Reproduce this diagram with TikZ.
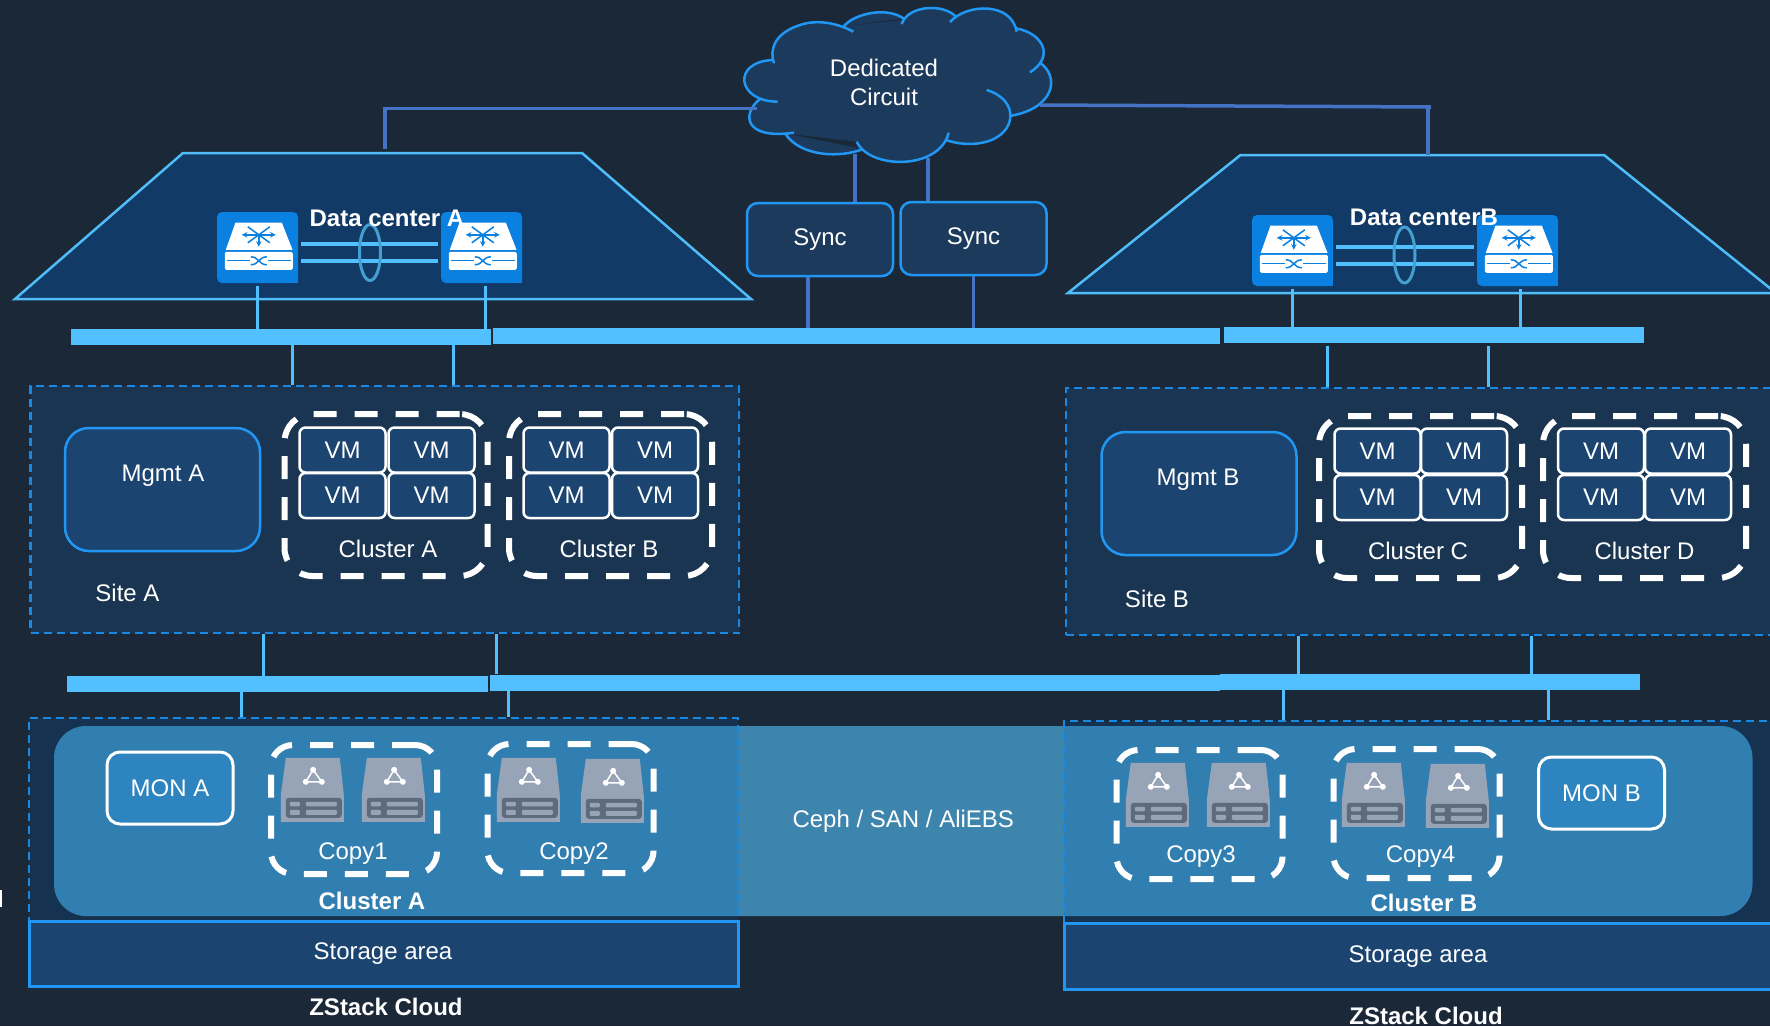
\documentclass[tikz,border=0pt]{standalone}
\usepackage{fontspec}
\setmainfont{Liberation Sans}
\usepackage{tikz}
\usetikzlibrary{arrows}
\usetikzlibrary{shapes}

\definecolor{pagebg}{HTML}{1B2838}
\definecolor{roomfill}{HTML}{123A66}
\definecolor{roomline}{HTML}{4FBDF7}
\definecolor{barblue}{HTML}{52C0FF}
\definecolor{wireblue}{HTML}{4472C4}
\definecolor{cloudfill}{HTML}{1B3A5C}
\definecolor{cloudline}{HTML}{2196F3}
\definecolor{sitefill}{HTML}{1A3552}
\definecolor{sitedash}{HTML}{1A87E0}
\definecolor{mgmtfill}{HTML}{1B4570}
\definecolor{bandfill}{HTML}{3E85AE}
\definecolor{monfill}{HTML}{2D84BF}
\definecolor{switchblue}{HTML}{0A80E0}
\definecolor{diskgray}{HTML}{97A3B6}
\definecolor{diskdark}{HTML}{5E6B7D}

\tikzset{
	txt/.style={text=white, font=\fontsize{24}{29}\selectfont, inner sep=0pt, align=center},
	boldtxt/.style={text=white, font=\fontsize{24}{29}\selectfont\bfseries, inner sep=0pt},
	room/.style={draw=roomline, fill=roomfill, line width=2.5pt, line join=miter},
	busbar/.style={fill=barblue, inner sep=0pt, minimum height=16pt},
	link/.style={draw=barblue, line width=3pt},
	lagline/.style={draw=barblue, line width=4pt},
	wire/.style={draw=wireblue, line width=3.5pt},
	syncbox/.style={draw=cloudline, fill=cloudfill, line width=2.5pt, rounded corners=11pt, inner sep=0pt, minimum width=146pt, minimum height=73pt, text=white, font=\fontsize{24}{29}\selectfont},
	sitebox/.style={draw=sitedash, fill=sitefill, line width=2.5pt, dash pattern=on 8pt off 5pt, inner sep=0pt},
	storezone/.style={draw=sitedash, line width=2.5pt, dash pattern=on 8pt off 5pt, inner sep=0pt, fill={rgb,255:red,1;green,98;blue,184}, fill opacity=.2},
	mgmtbox/.style={draw=cloudline, fill=mgmtfill, line width=2.5pt, rounded corners=24pt, inner sep=0pt, minimum width=195pt, minimum height=123pt},
	clusterbox/.style={draw=white, line width=6pt, rounded corners=28pt, dash pattern=on 23pt off 18pt, inner sep=0pt, minimum width=203pt, minimum height=162pt},
	copybox/.style={draw=white, line width=6pt, rounded corners=22pt, dash pattern=on 23pt off 18pt, inner sep=0pt, minimum width=166pt, minimum height=129pt},
	vmbox/.style={draw=white, fill=mgmtfill, line width=2.5pt, rounded corners=6pt, inner sep=0pt, minimum width=86pt, minimum height=45pt, text=white, font=\fontsize{24}{29}\selectfont},
	monbox/.style={draw=white, fill=monfill, line width=3pt, rounded corners=13pt, inner sep=0pt, minimum width=126pt, minimum height=72pt, text=white, font=\fontsize{24}{29}\selectfont},
	areabox/.style={draw=cloudline, fill=mgmtfill, line width=3pt, inner sep=0pt, text=white, font=\fontsize{24}{29}\selectfont},
	switchbox/.style={fill=switchblue, rounded corners=5pt, inner sep=0pt, minimum width=81pt, minimum height=71pt},
	diskbox/.style={fill=diskgray, inner sep=0pt, minimum width=63pt, minimum height=64pt, path picture={}},
}

% white switch symbol on top of a switchbox node
\newcommand{\switchicon}[1]{
	\begin{scope}[shift={(#1.north west)}]
		\fill[switchblue] (70,60) rectangle (81,71);
		\fill[white] (18.7,10.7) -- (65,10.7) -- (75.7,38) -- (9,38) -- cycle;
		\fill[white, rounded corners=1.5pt] (8,40) rectangle (76,58);
		\draw[switchblue, line width=1.5pt, -stealth] (42,23) -- (59,23);
		\draw[switchblue, line width=1.5pt, -stealth] (42,23) -- (25,23);
		\draw[switchblue, line width=1.5pt, -stealth] (42,23) -- (42,35);
		\draw[switchblue, line width=1.5pt] (31,15) -- (53,31);
		\draw[switchblue, line width=1.5pt] (53,15) -- (31,31);
		\draw[switchblue, line width=1pt] (10,49) -- (33,49);
		\draw[switchblue, line width=1pt] (51,49) -- (74,49);
		\draw[switchblue, line width=1.5pt] (34,45) .. controls (42,45) and (42,53) .. (50,53);
		\draw[switchblue, line width=1.5pt] (34,53) .. controls (42,53) and (42,45) .. (50,45);
	\end{scope}
}

% grey disk symbol, #1 is the diskbox node
\newcommand{\diskicon}[1]{
	\begin{scope}[shift={(#1.north west)}]
		\fill[pagebg!0!diskgray] (5,0) -- (59,0) -- (63,37) -- (63,64) -- (0,64) -- (0,37) -- cycle;
		\fill[diskdark, rounded corners=3pt] (5,40) rectangle (61,60);
		\fill[diskgray, rounded corners=1pt] (9,44) rectangle (19,48.5);
		\fill[diskgray, rounded corners=1pt] (9,52) rectangle (19,57);
		\fill[diskgray, rounded corners=1pt] (25,44) rectangle (56,48.5);
		\fill[diskgray, rounded corners=1pt] (25,52) rectangle (56,57);
		\draw[white, line width=1.5pt] (32.3,12) -- (25,24) -- (41,24) -- cycle;
		\fill[white] (32.3,12) circle (3);
		\fill[white] (25,24) circle (3);
		\fill[white] (41,24) circle (3);
	\end{scope}
}

\begin{document}
\begin{tikzpicture}[x=1pt, y=-1pt]
	\useasboundingbox (0,0) rectangle (1770,1026);
	\clip (0,0) rectangle (1770,1026);
	\fill[pagebg] (0,0) rectangle (1770,1026);
	\fill[white] (0,890) rectangle (2,907);

	% data centers
	\draw[room] (183,153) -- (582,153) -- (751,299) -- (15,299) -- cycle;
	\draw[room] (1240.5,155) -- (1604,155) -- (1776,293) -- (1068,293) -- cycle;

	% cloud, lobe by lobe
	\begin{scope}[shift={(700,0)}, x=.3333pt, y=-.3333pt]
		\fill[cloudfill] (222,190) -- (432,78) -- (610,60) -- (768,50) -- (950,90) -- (1020,188) -- (930,348) -- (738,420) -- (470,425) -- (255,400) -- (180,297) -- cycle;
		\draw[cloudline, fill=cloudfill, line width=2.5pt]
			(222,190) .. controls (208,150) and (222,100) .. (300,75) .. controls (350,58) and (410,68) .. (460,95)
			(432,78) .. controls (465,40) and (560,20) .. (610,55)
			(605,72) .. controls (625,15) and (730,10) .. (768,50)
			(750,66) .. controls (800,10) and (935,5) .. (950,95)
			(948,85) .. controls (1030,100) and (1065,170) .. (990,217)
			(1020,188) .. controls (1080,230) and (1065,325) .. (930,348)
			(860,270) .. controls (960,300) and (950,400) .. (860,425) .. controls (820,437) and (770,432) .. (738,420)
			(746,398) .. controls (720,510) and (510,510) .. (470,425)
			(490,447) .. controls (420,475) and (300,470) .. (255,400)
			(282,398) .. controls (130,420) and (125,340) .. (180,297)
			(233,305) .. controls (110,305) and (95,185) .. (218,180);
	\end{scope}
	\node[txt] (CLOUD) at (884,82) {Dedicated\\Circuit};

	\coordinate (TOPA) at (385,149);
	\coordinate (CLW) at (757,108.5);
	\coordinate (CLE) at (1040,105);
	\coordinate (WIREB) at (1431,107);
	\coordinate (TOPB) at (1428,155);
	\coordinate (CL1) at (855,154);
	\coordinate (CL2) at (928,158);

	\draw[wire] (TOPA) |- (CLW);
	\draw[wire] (CLE) -- (WIREB);
	\draw[wire] (TOPB) -- (TOPB |- WIREB);

	\node[syncbox] (SYNC1) at (820,239.5) {Sync};
	\node[syncbox] (SYNC2) at (973.5,238.5) {Sync};
	\draw[wire] (CL1) -- (CL1 |- SYNC1.north);
	\draw[wire] (CL2) -- (CL2 |- SYNC2.north);

	% upper bus
	\node[busbar, minimum width=420pt] (BARA) at (281,337) {};
	\node[busbar, minimum width=727pt] (BARC) at (856.5,336) {};
	\node[busbar, minimum width=419.5pt] (BARB) at (1434,335) {};
	\draw[wire] ([xshift=-12pt]SYNC1.south) -- ([xshift=-12pt]SYNC1.south |- BARC.north);
	\draw[wire] (SYNC2.south) -- (SYNC2.south |- BARC.north);

	% switches
	\node[switchbox] (SWA1) at (257.5,247.5) {};
	\node[switchbox] (SWA2) at (481.5,247.5) {};
	\node[switchbox] (SWB1) at (1292.5,250.5) {};
	\node[switchbox] (SWB2) at (1517.5,250.5) {};
	\switchicon{SWA1}
	\switchicon{SWA2}
	\switchicon{SWB1}
	\switchicon{SWB2}

	\draw[lagline, shorten <=3pt, shorten >=3pt] ([yshift=3.5pt]SWA1.east) -- ([yshift=3.5pt]SWA2.west);
	\draw[lagline, shorten <=3pt, shorten >=3pt] ([yshift=-13.5pt]SWA1.east) -- ([yshift=-13.5pt]SWA2.west);
	\draw[lagline, shorten <=3pt, shorten >=3pt] ([yshift=3.5pt]SWB1.east) -- ([yshift=3.5pt]SWB2.west);
	\draw[lagline, shorten <=3pt, shorten >=3pt] ([yshift=-13.5pt]SWB1.east) -- ([yshift=-13.5pt]SWB2.west);
	\node[draw=roomline!85!black, ellipse, line width=3pt, inner sep=0pt, minimum width=21pt, minimum height=56pt] (LAGA) at (370,252.5) {};
	\node[draw=roomline!85!black, ellipse, line width=3pt, inner sep=0pt, minimum width=21pt, minimum height=56pt] (LAGB) at (1404.5,255) {};

	\draw[link, shorten <=3pt] (SWA1.south) -- (SWA1.south |- BARA.north);
	\draw[link, shorten <=3pt] ([xshift=3.5pt]SWA2.south) -- ([xshift=3.5pt]SWA2.south |- BARA.north);
	\draw[link, shorten <=3pt] (SWB1.south) -- (SWB1.south |- BARB.north);
	\draw[link, shorten <=3pt] ([xshift=2.5pt]SWB2.south) -- ([xshift=2.5pt]SWB2.south |- BARB.north);

	\node[boldtxt] (DCA) at (387,218) {Data center A};
	\node[boldtxt] (DCB) at (1424,217) {Data centerB};

	% sites
	\node[sitebox, minimum width=708.5pt, minimum height=247pt] (SITEA) at (384.75,509.5) {};
	\node[sitebox, minimum width=710pt, minimum height=247pt] (SITEB) at (1421,511.5) {};
	\coordinate (UA1) at (292,350);
	\coordinate (UA2) at (453,350);
	\coordinate (UB1) at (1327,346);
	\coordinate (UB2) at (1488.5,346);
	\draw[link] (BARA.south -| UA1) -- (SITEA.north -| UA1);
	\draw[link] (BARA.south -| UA2) -- (SITEA.north -| UA2);
	\draw[link] (UB1) -- (SITEB.north -| UB1);
	\draw[link] (UB2) -- (SITEB.north -| UB2);

	\node[mgmtbox] (MGMTA) at (162.5,489.5) {};
	\node[mgmtbox] (MGMTB) at (1199,493.5) {};
	\node[txt] (MGA) at (163,476) {Mgmt A};
	\node[txt] (MGB) at (1198,480) {Mgmt B};
	\node[txt] (SA) at (127.5,593) {Site A};
	\node[txt] (SB) at (1157,599) {Site B};

	\node[clusterbox] (CLA) at (386,495) {};
	\node[clusterbox] (CLB) at (610.5,495) {};
	\node[clusterbox] (CLC) at (1420.5,497) {};
	\node[clusterbox] (CLD) at (1644.5,497) {};

	\node[vmbox] (VM1) at (342.5,450) {VM};
	\node[vmbox] (VM2) at (431.5,450) {VM};
	\node[vmbox] (VM3) at (342.5,495.5) {VM};
	\node[vmbox] (VM4) at (431.5,495.5) {VM};
	\node[vmbox] (VM5) at (566.5,450) {VM};
	\node[vmbox] (VM6) at (655,450) {VM};
	\node[vmbox] (VM7) at (566.5,495.5) {VM};
	\node[vmbox] (VM8) at (655,495.5) {VM};
	\node[vmbox] (VM9) at (1377.5,451) {VM};
	\node[vmbox] (VM10) at (1464,451) {VM};
	\node[vmbox] (VM11) at (1377.5,497.5) {VM};
	\node[vmbox] (VM12) at (1464,497.5) {VM};
	\node[vmbox] (VM13) at (1601,451) {VM};
	\node[vmbox] (VM14) at (1688,451) {VM};
	\node[vmbox] (VM15) at (1601,497.5) {VM};
	\node[vmbox] (VM16) at (1688,497.5) {VM};

	\node[txt] (LA) at (388,549) {Cluster A};
	\node[txt] (LB) at (609,549) {Cluster B};
	\node[txt] (LC) at (1418,551) {Cluster C};
	\node[txt] (LD) at (1644.5,551) {Cluster D};

	% lower bus
	\node[busbar, minimum width=421pt] (LOWA) at (277.5,684) {};
	\node[busbar, minimum width=729.5pt] (LOWC) at (854.75,682.5) {};
	\node[busbar, minimum width=419.5pt] (LOWB) at (1430,682) {};
	\coordinate (DA1) at (263,640);
	\coordinate (DA2) at (496,640);
	\coordinate (DB1) at (1298,640);
	\coordinate (DB2) at (1531,640);
	\draw[link] (SITEA.south -| DA1) -- (LOWA.north -| DA1);
	\draw[link] (SITEA.south -| DA2) -- (LOWC.north -| DA2);
	\draw[link] (SITEB.south -| DB1) -- (LOWB.north -| DB1);
	\draw[link] (SITEB.south -| DB2) -- (LOWB.north -| DB2);

	% storage band and the zones over it
	\node[fill=bandfill, rounded corners=32pt, inner sep=0pt, minimum width=1698.5pt, minimum height=190pt, text=white, font=\fontsize{24}{29}\selectfont] (BAND) at (903.25,821) {Ceph / SAN / AliEBS};
	\node[storezone, minimum width=709pt, minimum height=203pt] (ZONEA) at (383.5,819.5) {};
	\node[storezone, minimum width=712pt, minimum height=202pt] (ZONEB) at (1420,822) {};
	\coordinate (EA1) at (241.5,700);
	\coordinate (EA2) at (508,700);
	\coordinate (EB1) at (1283,700);
	\coordinate (EB2) at (1548.5,700);
	\draw[link] (LOWA.south -| EA1) -- (ZONEA.north -| EA1);
	\draw[link] (LOWC.south -| EA2) -- (ZONEA.north -| EA2);
	\draw[link] (LOWB.south -| EB1) -- (ZONEB.north -| EB1);
	\draw[link] (LOWB.south -| EB2) -- (ZONEB.north -| EB2);

	\node[areabox, minimum width=709pt, minimum height=65pt] (AREAA) at (383.5,953.5) {};
	\node[areabox, minimum width=712pt, minimum height=66pt] (AREAB) at (1420,956) {};
	\node[txt] (TA) at (383,954) {Storage area};
	\node[txt] (TB) at (1418,957) {Storage area};

	\node[monbox] (MONA) at (170,788) {MON A};
	\node[monbox] (MONB) at (1601.5,793) {MON B};

	\node[copybox] (COPA) at (354,809.5) {};
	\node[copybox] (COPB) at (570.5,808.5) {};
	\node[copybox] (COPC) at (1199.5,814.5) {};
	\node[copybox] (COPD) at (1416.5,813.5) {};

	\node[inner sep=0pt, minimum width=63pt, minimum height=64pt] (D1) at (312.5,790) {};
	\node[inner sep=0pt, minimum width=63pt, minimum height=64pt] (D2) at (393.5,790) {};
	\node[inner sep=0pt, minimum width=63pt, minimum height=64pt] (D3) at (528.5,790) {};
	\node[inner sep=0pt, minimum width=63pt, minimum height=64pt] (D4) at (612.5,791) {};
	\node[inner sep=0pt, minimum width=63pt, minimum height=64pt] (D5) at (1157.5,795) {};
	\node[inner sep=0pt, minimum width=63pt, minimum height=64pt] (D6) at (1238.5,795) {};
	\node[inner sep=0pt, minimum width=63pt, minimum height=64pt] (D7) at (1373.5,795) {};
	\node[inner sep=0pt, minimum width=63pt, minimum height=64pt] (D8) at (1457.5,796) {};
	\diskicon{D1}
	\diskicon{D2}
	\diskicon{D3}
	\diskicon{D4}
	\diskicon{D5}
	\diskicon{D6}
	\diskicon{D7}
	\diskicon{D8}

	\node[txt] (C1) at (353,854) {Copy1};
	\node[txt] (C2) at (574,854) {Copy2};
	\node[txt] (C3) at (1201,857) {Copy3};
	\node[txt] (C4) at (1420.5,857) {Copy4};

	\node[boldtxt] (BCA) at (372,901) {Cluster A};
	\node[boldtxt] (BCB) at (1424,903) {Cluster B};
	\node[boldtxt] (ZA) at (386,1007) {ZStack Cloud};
	\node[boldtxt] (ZB) at (1426,1016) {ZStack Cloud};
\end{tikzpicture}
\end{document}
